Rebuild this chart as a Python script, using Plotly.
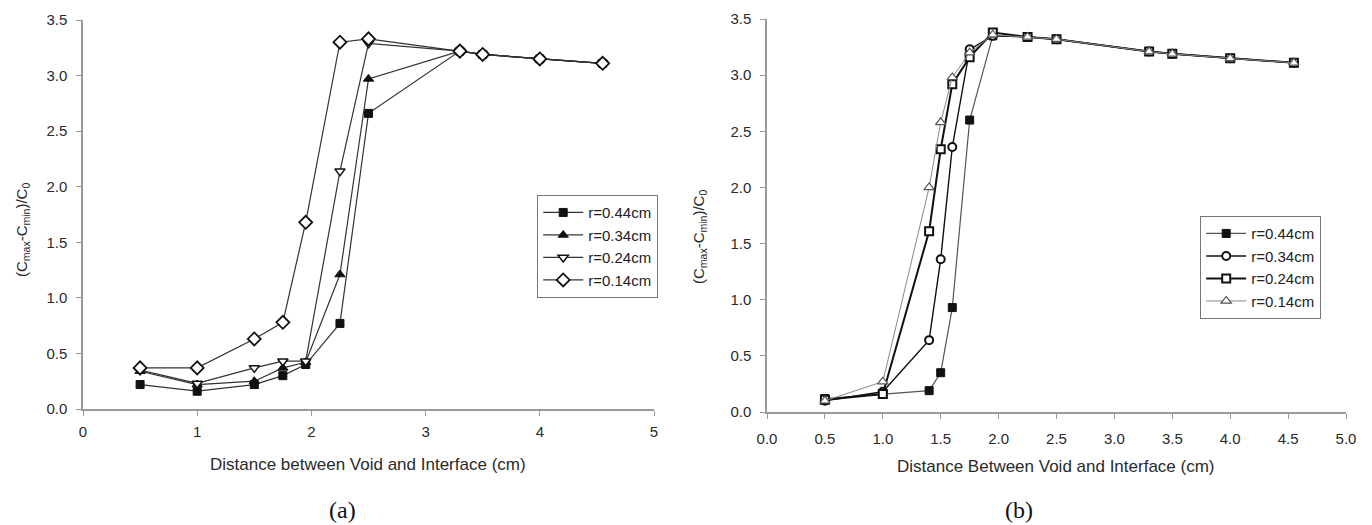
import plotly.graph_objects as go

# Panel (a): distance values and normalised contrast for each void radius
x_a = [0.5, 1.0, 1.5, 1.75, 1.95, 2.25, 2.5, 3.3, 3.5, 4.0, 4.55]
a_r044 = [0.22, 0.16, 0.22, 0.30, 0.40, 0.77, 2.66, 3.22, 3.19, 3.15, 3.11]
a_r034 = [0.34, 0.22, 0.25, 0.37, 0.42, 1.21, 2.97, 3.22, 3.19, 3.15, 3.11]
a_r024 = [0.35, 0.23, 0.37, 0.43, 0.43, 2.14, 3.29, 3.22, 3.19, 3.15, 3.11]
a_r014 = [0.37, 0.37, 0.63, 0.78, 1.68, 3.30, 3.33, 3.22, 3.19, 3.15, 3.11]

# Panel (b)
x_b = [0.5, 1.0, 1.4, 1.5, 1.6, 1.75, 1.95, 2.25, 2.5, 3.3, 3.5, 4.0, 4.55]
b_r044 = [0.12, 0.16, 0.19, 0.35, 0.93, 2.60, 3.35, 3.34, 3.32, 3.21, 3.19, 3.15, 3.11]
b_r034 = [0.10, 0.18, 0.64, 1.36, 2.36, 3.23, 3.35, 3.34, 3.32, 3.21, 3.19, 3.15, 3.11]
b_r024 = [0.11, 0.16, 1.61, 2.34, 2.92, 3.16, 3.38, 3.34, 3.32, 3.21, 3.19, 3.15, 3.11]
b_r014 = [0.10, 0.27, 2.00, 2.58, 2.98, 3.20, 3.36, 3.34, 3.32, 3.21, 3.19, 3.15, 3.11]

labels = ["r=0.44cm", "r=0.34cm", "r=0.24cm", "r=0.14cm"]

W, H = 1372, 525
FONT = "Liberation Sans, Arial, sans-serif"
SERIF = "Liberation Serif, Times New Roman, serif"
TXT = "#2a2a2a"


def px_x(p):
    return p / W


def px_y(p):
    return 1 - p / H


fig = go.Figure()

# ---- panel (a) traces
a_styles = [
    dict(symbol="square", size=8, color="#111111", lc="#333333", lw=1.2, lcol="#111111", mlw=1),
    dict(symbol="triangle-up", size=9, color="#111111", lc="#333333", lw=1.2, lcol="#111111", mlw=1),
    dict(symbol="triangle-down", size=9, color="white", lc="#333333", lw=1.2, lcol="#111111", mlw=1.5),
    dict(symbol="diamond", size=10, color="white", lc="#333333", lw=1.2, lcol="#111111", mlw=1.8),
]
for ys, lab, st in zip([a_r044, a_r034, a_r024, a_r014], labels, a_styles):
    fig.add_trace(go.Scatter(
        x=x_a, y=ys, name=lab, mode="lines+markers",
        line=dict(color=st["lc"], width=st["lw"]),
        marker=dict(symbol=st["symbol"], size=st["size"], color=st["color"],
                    line=dict(color=st["lcol"], width=st["mlw"])),
        xaxis="x", yaxis="y", legend="legend",
    ))

# ---- panel (b) traces
b_styles = [
    dict(symbol="square", size=8, color="#111111", lc="#555555", lw=1.2, lcol="#111111", mlw=1),
    dict(symbol="circle", size=8, color="white", lc="#111111", lw=1.4, lcol="#111111", mlw=2),
    dict(symbol="square", size=8, color="white", lc="#111111", lw=2.0, lcol="#111111", mlw=2),
    dict(symbol="triangle-up", size=9, color="white", lc="#888888", lw=1.0, lcol="#555555", mlw=1.2),
]
for ys, lab, st in zip([b_r044, b_r034, b_r024, b_r014], labels, b_styles):
    fig.add_trace(go.Scatter(
        x=x_b, y=ys, name=lab, mode="lines+markers",
        line=dict(color=st["lc"], width=st["lw"]),
        marker=dict(symbol=st["symbol"], size=st["size"], color=st["color"],
                    line=dict(color=st["lcol"], width=st["mlw"])),
        xaxis="x2", yaxis="y2", legend="legend2",
    ))

axis_common = dict(
    showline=True, linecolor="#999999", linewidth=1.5,
    ticks="outside", ticklen=5, tickcolor="#999999", tickwidth=1.2,
    showgrid=False, zeroline=False, automargin=False,
    tickfont=dict(family=FONT, size=15, color=TXT),
)

ytitle = "(C<sub>max</sub>-C<sub>min</sub>)/C<sub>0</sub>"

legend_common = dict(
    xanchor="left", yanchor="top",
    bordercolor="#777777", borderwidth=1.2, bgcolor="white",
    font=dict(family=FONT, size=15, color="#222222"),
    tracegroupgap=0, itemwidth=40,
)


def note(text, x, y, size, family=FONT, angle=0, color=TXT):
    return dict(text=text, x=px_x(x), y=px_y(y), xref="paper", yref="paper",
                textangle=angle, showarrow=False, xanchor="center", yanchor="middle",
                font=dict(family=family, size=size, color=color))


fig.update_layout(
    width=W, height=H,
    margin=dict(l=0, r=0, t=0, b=0, autoexpand=False),
    paper_bgcolor="white", plot_bgcolor="white",
    font=dict(family=FONT, color=TXT),
    xaxis=dict(domain=[px_x(83), px_x(654)], range=[0, 5], dtick=1,
               anchor="y", ticklabelstandoff=3, **axis_common),
    yaxis=dict(domain=[px_y(409), px_y(20)], range=[0, 3.5], dtick=0.5, tickformat=".1f",
               anchor="x", ticklabelstandoff=6, **axis_common),
    xaxis2=dict(domain=[px_x(767), px_x(1346)], range=[0, 5], dtick=0.5, tickformat=".1f",
                anchor="y2", ticklabelstandoff=7, **axis_common),
    yaxis2=dict(domain=[px_y(412), px_y(19)], range=[0, 3.5], dtick=0.5, tickformat=".1f",
                anchor="x2", ticklabelstandoff=6, **axis_common),
    legend=dict(x=px_x(537), y=px_y(195), **legend_common),
    legend2=dict(x=px_x(1200), y=px_y(216), **legend_common),
    annotations=[
        note("Distance between Void and Interface (cm)", 368, 464, 17),
        note("Distance Between Void and Interface (cm)", 1056, 466, 17),
        note(ytitle, 22, 230, 15, angle=-90),
        note(ytitle, 700, 237, 15, angle=-90),
        note("(a)", 342, 510, 24, family=SERIF, color="#111111"),
        note("(b)", 1019, 510, 24, family=SERIF, color="#111111"),
    ],
)

fig.write_html("out.html")
